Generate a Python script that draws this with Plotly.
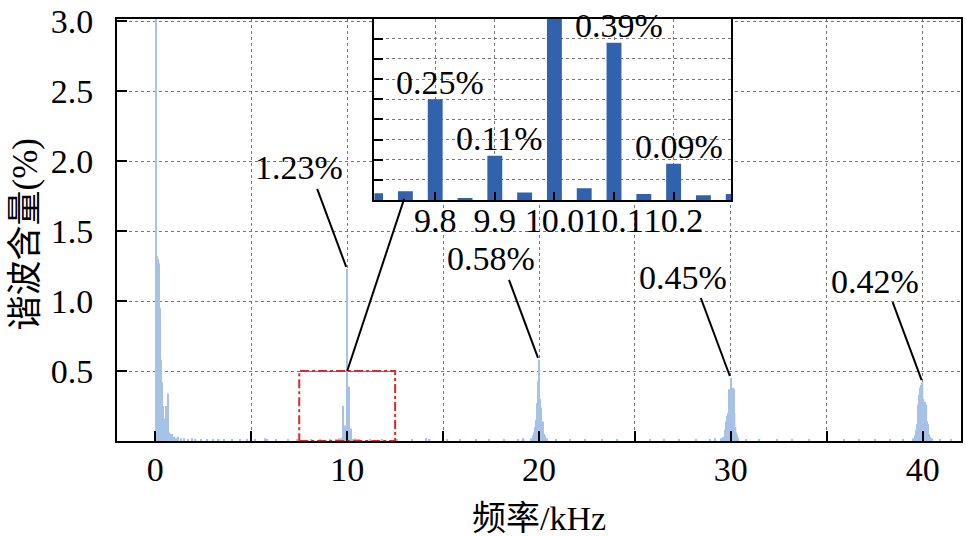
import plotly.graph_objects as go

# ---------------- data ----------------
# low-frequency components (kHz, %)
low_freqs = [0.05, 0.10, 0.15, 0.20, 0.25, 0.30, 0.35, 0.40, 0.45, 0.50, 0.55, 0.60,
             0.65, 0.70, 0.75, 0.80, 0.85, 0.90, 1.00, 1.10, 1.20, 1.35, 1.50, 1.70,
             1.90, 2.10, 2.40, 2.70, 3.00, 3.30, 3.60, 4.00, 4.40, 4.80]
low_amps = [100.0, 1.32, 1.30, 1.27, 0.95, 0.58, 0.42, 0.25, 0.16, 0.10, 0.25, 0.07,
            0.34, 0.06, 0.05, 0.04, 0.05, 0.03, 0.03, 0.02, 0.03, 0.02, 0.02, 0.015,
            0.02, 0.01, 0.015, 0.01, 0.01, 0.012, 0.01, 0.008, 0.01, 0.008]

# zoomed region around 10 kHz (inset)
inset_freqs = [9.70, 9.75, 9.80, 9.85, 9.90, 9.95, 10.00, 10.05, 10.10, 10.15, 10.20, 10.25, 10.30]
inset_vals = [0.017, 0.022, 0.25, 0.005, 0.11, 0.019, 1.23, 0.029, 0.39, 0.015, 0.09, 0.012, 0.015]
inset_labelled = [9.80, 9.90, 10.10, 10.20]

side10_freqs = [9.40, 9.50, 9.60, 9.65, 10.35, 10.40, 10.50, 10.60]
side10_amps = [0.01, 0.012, 0.02, 0.015, 0.015, 0.02, 0.01, 0.008]

c20_freqs = [19.60, 19.70, 19.75, 19.80, 19.85, 19.90, 19.95, 20.00, 20.05, 20.10,
             20.15, 20.20, 20.25, 20.30, 20.40]
c20_amps = [0.02, 0.04, 0.06, 0.10, 0.15, 0.27, 0.43, 0.58, 0.30, 0.24,
            0.12, 0.14, 0.05, 0.04, 0.02]

c30_freqs = [29.50, 29.60, 29.70, 29.75, 29.80, 29.85, 29.90, 29.95, 30.00, 30.05,
             30.10, 30.15, 30.20, 30.25, 30.30, 30.35, 30.40]
c30_amps = [0.02, 0.03, 0.08, 0.14, 0.18, 0.20, 0.37, 0.30, 0.45, 0.25,
            0.38, 0.37, 0.20, 0.10, 0.06, 0.04, 0.02]

c40_freqs = [39.50, 39.60, 39.65, 39.70, 39.75, 39.80, 39.85, 39.90, 39.95, 40.00,
             40.05, 40.10, 40.15, 40.20, 40.25, 40.30, 40.35, 40.40, 40.50]
c40_amps = [0.02, 0.04, 0.08, 0.12, 0.26, 0.33, 0.38, 0.40, 0.35, 0.42,
            0.30, 0.20, 0.28, 0.26, 0.14, 0.12, 0.05, 0.03, 0.02]

noise_freqs = [5.20, 5.70, 5.85, 6.30, 6.90, 7.40, 8.10, 8.60, 9.10, 11.20, 11.80, 12.60,
               13.40, 14.10, 14.30, 15.20, 15.90, 16.70, 17.40, 18.20, 18.90, 19.20,
               20.90, 21.60, 22.40, 23.30, 24.10, 25.00, 25.80, 26.50, 27.30, 28.20,
               28.90, 29.20, 30.80, 31.50, 32.40, 33.20, 34.10, 35.00, 35.90, 36.70,
               37.50, 38.30, 39.00, 40.90, 41.50]
noise_amps = [0.01, 0.02, 0.015, 0.01, 0.008, 0.01, 0.008, 0.01, 0.012, 0.01, 0.008, 0.01,
              0.012, 0.02, 0.015, 0.01, 0.008, 0.01, 0.008, 0.012, 0.015, 0.02,
              0.01, 0.008, 0.012, 0.008, 0.01, 0.008, 0.012, 0.01, 0.008, 0.012,
              0.015, 0.02, 0.012, 0.01, 0.008, 0.012, 0.01, 0.008, 0.01, 0.012,
              0.008, 0.012, 0.015, 0.012, 0.01]

# labelled peaks
peak_freqs = [10.0, 20.0, 30.0, 40.0]
peak_vals = [1.23, 0.58, 0.45, 0.42]

# ticks
x_tickvals = [0, 5, 10, 15, 20, 25, 30, 35, 40]
x_ticktext = ["0", "", "10", "", "20", "", "30", "", "40"]
y_tickvals = [0.5, 1.0, 1.5, 2.0, 2.5, 3.0]
y_ticktext = ["0.5", "1.0", "1.5", "2.0", "2.5", "3.0"]
inset_xticks = [9.8, 9.9, 10.0, 10.1, 10.2]
inset_xticktext = ["9.8", "9.9", "10.0", "10.1", "10.2"]
inset_yticks = [0.05, 0.10, 0.15, 0.20, 0.25, 0.30, 0.35, 0.40]

zoom_box = (7.5, 12.5, 0.0, 0.5)

# ---------------- figure ----------------
FONT = "'Liberation Serif', 'Noto Sans CJK SC', serif"
FS = 34
main_x = low_freqs + inset_freqs + side10_freqs + c20_freqs + c30_freqs + c40_freqs + noise_freqs
main_y = low_amps + inset_vals + side10_amps + c20_amps + c30_amps + c40_amps + noise_amps

fig = go.Figure()
fig.add_trace(go.Bar(x=main_x, y=main_y, width=0.07, marker=dict(color="#A6C2E6", line=dict(width=0)),
                     xaxis="x", yaxis="y", showlegend=False))
fig.add_trace(go.Bar(x=inset_freqs, y=inset_vals, width=0.025,
                     marker=dict(color="#3062AE", line=dict(width=0)),
                     xaxis="x2", yaxis="y2", showlegend=False))

grid = dict(showgrid=True, gridcolor="#777777", gridwidth=1, griddash="dot", zeroline=False)
axline = dict(showline=True, linecolor="black", linewidth=2, mirror=True,
              ticks="inside", tickcolor="black", tickwidth=2, ticklabeloverflow="allow")

fig.update_layout(
    width=966, height=536,
    margin=dict(l=117, r=3, t=10, b=95),
    paper_bgcolor="white", plot_bgcolor="white",
    font=dict(family=FONT, size=FS, color="black"),
    barmode="overlay",
    xaxis=dict(domain=[0, 1], range=[-2, 42], tickvals=x_tickvals, ticktext=x_ticktext,
               ticklen=10, ticklabelstandoff=-3, tickangle=0, anchor="y", **grid, **axline),
    yaxis=dict(domain=[0, 1], range=[0, 3.015], tickvals=y_tickvals, ticktext=y_ticktext,
               ticklen=10, ticklabelstandoff=15, anchor="x", **grid, **axline),
    xaxis2=dict(domain=[0.305, 0.728], range=[9.698, 10.297], tickvals=inset_xticks,
                ticktext=inset_xticktext, ticklen=8, ticklabelstandoff=-11, tickangle=0,
                anchor="y2", **grid, **axline),
    yaxis2=dict(domain=[0.571, 1.0], range=[0, 0.449], tickvals=inset_yticks,
                showticklabels=False, ticklen=9, anchor="x2", **grid, **axline),
)

shapes = []
# red zoom rectangle
shapes.append(dict(type="rect", xref="x", yref="y", x0=zoom_box[0], x1=zoom_box[1],
                   y0=zoom_box[2], y1=zoom_box[3], line=dict(color="#E0262A", width=2, dash="dashdot"),
                   layer="above"))
# connector from zoom box to inset
shapes.append(dict(type="line", xref="x", yref="y", x0=10.0, y0=zoom_box[3], x1=12.97, y1=1.73,
                   line=dict(color="black", width=2), layer="above"))

annotations = []
for f, v in zip(peak_freqs, peak_vals):
    shapes.append(dict(type="line", xref="x", yref="y", xsizemode="pixel", ysizemode="pixel",
                       xanchor=f, yanchor=v, x0=-30, x1=-1, y0=80, y1=2,
                       line=dict(color="black", width=2), layer="above"))
    annotations.append(dict(x=f, y=v, xref="x", yref="y", text=f"{v:.2f}%", showarrow=False,
                            xshift=-48, yshift=101, font=dict(size=FS)))

for f, v in zip(inset_freqs, inset_vals):
    if f in inset_labelled:
        annotations.append(dict(x=f, y=v, xref="x2", yref="y2", text=f"{v:.2f}%", showarrow=False,
                                xshift=5, yshift=17, font=dict(size=FS)))

annotations.append(dict(x=-0.1087, y=0.49, xref="paper", yref="paper", text="谐波含量(%)",
                        textangle=-90, showarrow=False, xanchor="center", yanchor="middle",
                        font=dict(size=35)))
annotations.append(dict(x=0.5, y=-0.183, xref="paper", yref="paper", text="频率/kHz",
                        showarrow=False, xanchor="center", yanchor="middle", font=dict(size=FS)))

fig.update_layout(shapes=shapes, annotations=annotations)
fig.write_html("out.html", config={"displayModeBar": False},
               post_script="document.body.style.margin='0';")
